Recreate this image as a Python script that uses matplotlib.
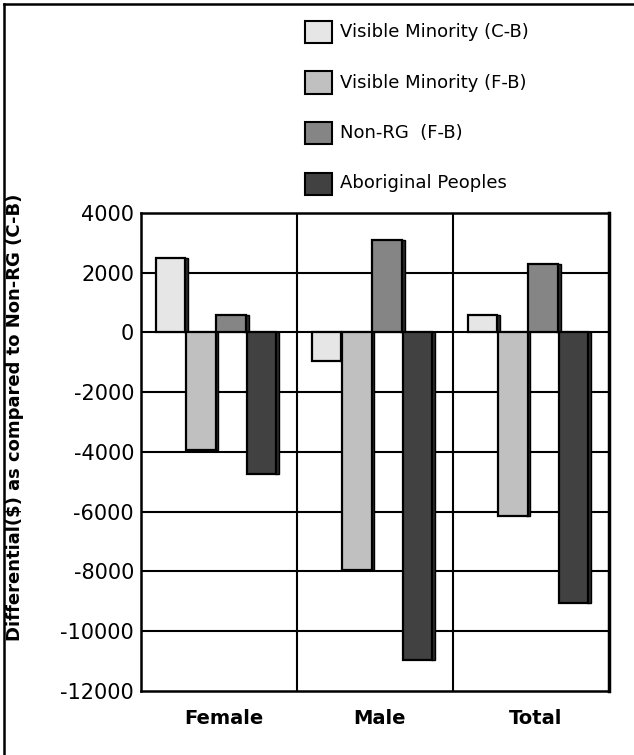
import numpy as np
import matplotlib
matplotlib.use("Agg")
import matplotlib.pyplot as plt
from matplotlib.lines import Line2D

# earnings differential vs Non-RG (C-B), by sex
categories = ["Female", "Male", "Total"]
series = ["Visible Minority (C-B)", "Visible Minority (F-B)", "Non-RG  (F-B)", "Aboriginal Peoples"]
vm_cb = [2500, -950, 600]
vm_fb = [-3950, -7950, -6150]
nonrg_fb = [600, 3100, 2300]
aboriginal = [-4750, -10950, -9050]
yticks = [4000, 2000, 0, -2000, -4000, -6000, -8000, -10000, -12000]

colors = ["#e6e6e6", "#c0c0c0", "#858585", "#414141"]
values = [vm_cb, vm_fb, nonrg_fb, aboriginal]

fig = plt.figure(figsize=(6.34, 7.55), dpi=100)
ax = fig.add_axes([0.2224, 0.0848, 0.7382, 0.6331])

x = np.arange(len(categories))
w = 0.19
offsets = (np.arange(4) - 1.6) * (w + 0.005)
for vals, off, c in zip(values, offsets, colors):
    # dark side strip for the fake 3d look
    ax.bar(x + off + w / 2 + 0.004, vals, 0.028, color="#2a2a2a", edgecolor="black",
           linewidth=1.0, zorder=2)
    ax.bar(x + off, vals, w, color=c, edgecolor="black", linewidth=1.6, zorder=3)

ax.set_xlim(-0.5, 2.5)
ax.set_ylim(-12000, 4000)
ax.set_yticks(yticks)
ax.set_yticklabels([str(v) for v in yticks], fontsize=15)
ax.set_xticks(x + 0.03)
ax.set_xticklabels(categories, fontsize=14, fontweight="bold")
ax.tick_params(length=0)
ax.tick_params(axis="y", pad=5)
ax.tick_params(axis="x", pad=13)

for v in yticks[1:-1]:
    ax.axhline(v, color="black", lw=1.5, zorder=1)
for xv in [0.5, 1.5]:
    ax.axvline(xv, color="black", lw=1.5, zorder=1)
for s in ax.spines.values():
    s.set_linewidth(1.8)
ax.spines["right"].set_linewidth(2.5)

fig.text(0.024, 0.447, "Differential($) as compared to Non-RG (C-B)",
         rotation=90, ha="center", va="center", fontsize=13, fontweight="bold")

# legend drawn by hand at the top right
for i, (name, c) in enumerate(zip(series, colors)):
    yc = 1 - (32 + i * 50.5) / 755
    fig.patches.append(plt.Rectangle((305 / 634, yc - 11 / 755), 27 / 634, 22 / 755,
                                     transform=fig.transFigure, facecolor=c,
                                     edgecolor="black", linewidth=1.5))
    fig.text(340 / 634, yc, name, fontsize=13, ha="left", va="center")

# frame on the left and top edges
fig.lines.append(Line2D([4 / 634, 4 / 634], [0, 1 - 4 / 755], transform=fig.transFigure,
                        color="black", lw=1.8))
fig.lines.append(Line2D([4 / 634, 1], [1 - 4 / 755, 1 - 4 / 755], transform=fig.transFigure,
                        color="black", lw=1.8))

fig.savefig("out.png", dpi=100)
